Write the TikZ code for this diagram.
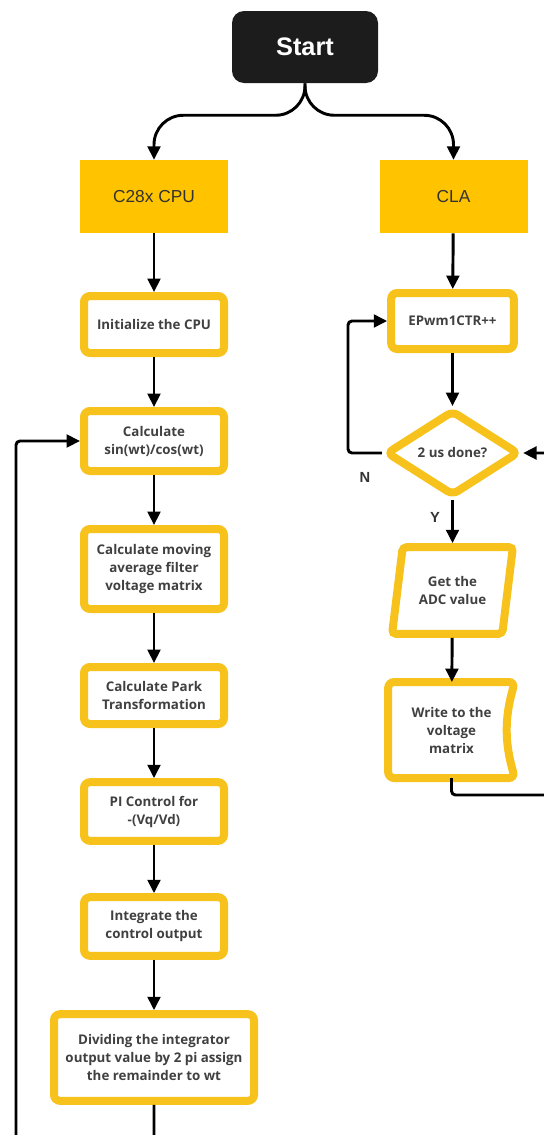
\documentclass[tikz,border=0pt]{standalone}
\usepackage{fontspec}
\setmainfont{Open Sans}
\newfontfamily\fcarial{Liberation Sans}
\usepackage{tikz}
\usetikzlibrary{arrows.meta,shapes.geometric,positioning,calc}
\definecolor{fcyellow}{HTML}{FFC300}
\definecolor{fcborder}{HTML}{F7C21B}
\definecolor{fctext}{HTML}{404040}
\definecolor{fcdark}{HTML}{1C1C1C}
\tikzset{
  fcterm/.style={
    rectangle, rounded corners=9pt, fill=fcdark, text=white,
    minimum width=109.5pt, minimum height=54pt,
    font=\fcarial\bfseries\fontsize{19}{22}\selectfont
  },
  fcunit/.style={
    rectangle, fill=fcyellow, text=black!80,
    minimum width=111pt, minimum height=54.75pt,
    font=\fcarial\fontsize{13}{15}\selectfont
  },
  fcbox/.style={
    rectangle, rounded corners=4.5pt, draw=fcborder, fill=white, line width=6pt,
    minimum width=105pt, minimum height=42.75pt, inner sep=2pt, align=center,
    text=fctext, font=\bfseries\fontsize{10}{13.5}\selectfont
  },
  fcdecision/.style={fcbox,diamond,aspect=1.55,minimum width=100pt,minimum height=64.5pt,inner sep=1pt},
  fcio/.style={fcbox,trapezium,trapezium left angle=77,trapezium right angle=103,
    trapezium stretches=true,rounded corners=3pt,minimum width=90.75pt,minimum height=65pt},
  fcstore/.style={
    rectangle, minimum width=89pt, minimum height=66pt, outer sep=3pt, align=center,
    text=fctext, font=\bfseries\fontsize{10}{13.5}\selectfont
  },
  fcborderline/.style={draw=fcborder,fill=white,line width=6pt,rounded corners=4.5pt},
  fcedge/.style={-{Triangle[length=10pt,width=9.5pt]},line width=2.2pt},
  fcyn/.style={font=\fcarial\bfseries\fontsize{11}{13}\selectfont,text=black!80}
}

\begin{document}
\begin{tikzpicture}[x=0.75pt,y=-0.75pt]
  \useasboundingbox (0,0) rectangle (543,1135);
  % start and the two cores
  \node[fcterm] (start) at (305,47) {Start};
  \node[fcunit] (cpu) at (154,196.5) {C28x CPU};
  \node[fcunit] (cla) at (453.5,196.5) {CLA};
  \draw[fcedge,rounded corners=22pt] (start.south) -- ++(0,32) -| (cpu.north);
  \draw[fcedge,rounded corners=22pt] (start.south) -- ++(0,32) -| (cla.north);
  % C28x CPU branch
  \node[fcbox] (init) at (154,324.5) {Initialize the CPU};
  \node[fcbox,minimum height=45pt] (sincos) at (154,441) {Calculate\\sin(wt)/cos(wt)};
  \node[fcbox,minimum height=60pt] (mavg) at (154,569) {Calculate moving\\average filter\\voltage matrix};
  \node[fcbox] (park) at (154,695.5) {Calculate Park\\Transformation};
  \node[fcbox,minimum height=44pt] (pictl) at (154,811.5) {PI Control for\\-(Vq/Vd)};
  \node[fcbox,minimum height=44pt] (integ) at (154,926.5) {Integrate the\\control output};
  \node[fcbox,minimum width=150pt,minimum height=65pt] (divide) at (154,1057.5) {Dividing the integrator\\output value by 2 pi assign\\the remainder to wt};
  \draw[fcedge] (cpu) -- (init);
  \draw[fcedge] (init) -- (sincos);
  \draw[fcedge] (sincos) -- (mavg);
  \draw[fcedge] (mavg) -- (park);
  \draw[fcedge] (park) -- (pictl);
  \draw[fcedge] (pictl) -- (integ);
  \draw[fcedge] (integ) -- (divide);
  \coordinate (loopL) at (16,1150);
  \draw[fcedge,rounded corners=3pt] (divide.south) |- (loopL) |- (sincos.west);
  % CLA branch
  \node[fcbox,minimum width=92pt,minimum height=42pt] (ctr) at (452.5,321) {EPwm1CTR++};
  \node[fcdecision] (dec) at (452.5,453) {2 us done?};
  \node[fcio] (adc) at (452.5,590.5) {Get the\\ADC value};
  \node[fcstore] (write) at (451.5,730) {Write to the\\voltage\\matrix};
  \draw[fcborderline] (write.south west) -- (write.north west) -- (write.north east)
    to[bend right=16] (write.south east) -- cycle;
  \node[fcstore] at (write) {Write to the\\voltage\\matrix};
  \draw[fcedge] (cla) -- (ctr);
  \draw[fcedge] (ctr) -- (dec);
  \draw[fcedge] (dec) -- (adc);
  \draw[fcedge] (adc) -- (write);
  \coordinate (loopN) at (348,453);
  \draw[fcedge,rounded corners=3pt] (dec.west) -- (loopN) |- (ctr.west);
  \coordinate (loopR) at (549,795);
  \draw[fcedge,rounded corners=3pt] (write.south) |- (loopR) |- (dec.east);
  \node[fcyn] (lblN) at (365,477) {N};
  \node[fcyn] (lblY) at (435,517) {Y};
\end{tikzpicture}
\end{document}
